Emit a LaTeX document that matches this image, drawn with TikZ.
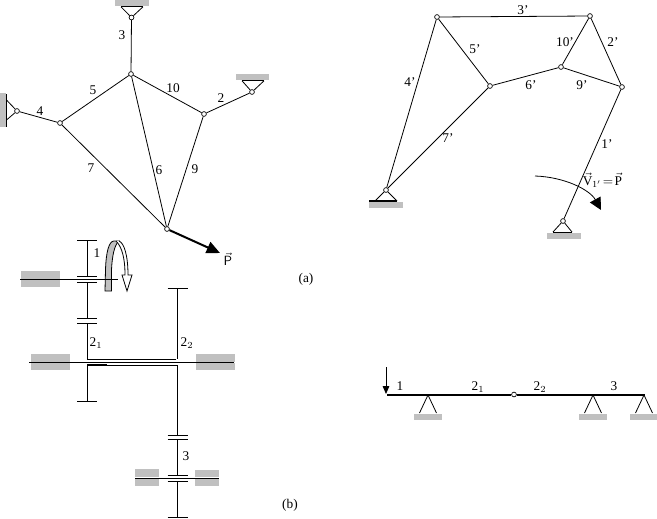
\documentclass[tikz,border=0pt]{standalone}
\usepackage{xcolor}
\usepackage{fontspec}
\setmainfont{Liberation Serif}
\usetikzlibrary{arrows.meta}
\definecolor{groundgray}{HTML}{C0C0C0}
\begin{document}
\begin{tikzpicture}[x=0.75pt,y=-0.75pt,
    pin/.style={circle,draw,fill=white,inner sep=0pt,minimum size=3.6pt,line width=0.5pt},
    bar/.style={line width=0.6pt},
    lbl/.style={inner sep=0pt,font=\fontsize{10}{11}\selectfont},
    ground/.style={fill=groundgray,draw=none}]
\useasboundingbox (0,0) rectangle (657,518);

% truss (a), left
\node[pin] (ttop) at (131.5,17.5) {};
\node[pin] (tleft) at (17,111) {};
\node[pin] (tright) at (252,92) {};
\node[pin] (ja) at (131,74) {};
\node[pin] (jb) at (60,123) {};
\node[pin] (jc) at (204,114) {};
\node[pin] (jd) at (167,229) {};
\coordinate (ptip) at (220,253);
\foreach \a/\b in {ttop/ja,tleft/jb,tright/jc,ja/jb,ja/jc,ja/jd,jb/jd,jc/jd}
    \draw[bar] (\a) -- (\b);
\draw[line width=1.5pt,-{Triangle[length=10pt,width=9pt]}] (jd) -- (ptip);

% supports of the truss
\fill[ground] (115,0) rectangle (149,6);
\fill[ground] (236,74) rectangle (269,80);
\fill[ground] (0,93) rectangle (5.5,127);
\draw[line width=1pt] (121,6.8) -- (143,6.8);
\draw[line width=1pt] (242,80.8) -- (264,80.8);
\draw[line width=1pt] (6.5,94) -- (6.5,127);
\draw[bar] (121,6.8) -- (ttop) -- (143,6.8);
\draw[bar] (242,80.8) -- (tright) -- (264,80.8);
\draw[bar] (6.5,100) -- (tleft) -- (6.5,120);

\foreach \t/\x/\y in {3/122/35,5/93/90,4/40/111,10/173/88,2/221/98,7/91/168,6/159/170,9/195/169}
    \node[lbl] (n\t) at (\x,\y) {\t};
\node[lbl] (plabel) at (228,259) {$\vec{\mathsf{P}}$};
\node[lbl] (capa) at (306,279) {(a)};

% truss (a), right
\node[pin] (ra) at (437,17) {};
\node[pin] (rb) at (590,16) {};
\node[pin] (rc) at (490,86) {};
\node[pin] (rd) at (561,67) {};
\node[pin] (re) at (622,87) {};
\node[pin] (rf) at (386,190) {};
\node[pin] (rg) at (563,221) {};
\foreach \a/\b in {ra/rb,ra/rc,ra/rf,rc/rf,rc/rd,rd/re,rd/rb,rb/re,re/rg}
    \draw[bar] (\a) -- (\b);

\fill[ground] (369,202) rectangle (403,208);
\fill[ground] (547,233) rectangle (581,239);
\draw[line width=0.9pt] (369,201) -- (397,201);
\draw[line width=0.7pt] (553,232) -- (572,232);
\draw[bar] (375,201) -- (rf) -- (397,201);
\draw[bar] (553,232) -- (rg) -- (572,232);

\foreach \t/\x/\y in {3/523/10,5/475/49,4/410/82,10/565/42,2/613/42,6/531/85,9/582/85,7/448/138,1/607/144}
    \node[lbl] (m\t) at (\x,\y) {\t'};
\node[lbl] (vlabel) at (602.5,180) {$\vec{\mathrm{V}}_{\mathrm{1'}}\!=\!\vec{\mathrm{P}}$};
\coordinate (va) at (535,176);
\coordinate (vb) at (601,210);
\draw[bar,-{Triangle[length=9pt,width=9pt]}] (va) .. controls (565,177) and (590,190) .. (vb);

% gear train (b)
\fill[ground] (21,271) rectangle (60,279);
\fill[ground] (21,280) rectangle (60,287);
\fill[ground] (31,354) rectangle (70,362);
\fill[ground] (31,363) rectangle (70,370);
\fill[ground] (196,354) rectangle (235,362);
\fill[ground] (196,363) rectangle (235,370);
\fill[ground] (135,469) rectangle (159,477);
\fill[ground] (135,479) rectangle (159,486);
\fill[ground] (195,470) rectangle (219,477);
\fill[ground] (195,479) rectangle (219,486);

\foreach \y in {240,276,282,318,323,401}
    \draw[bar] (77,\y) -- (97,\y);
\foreach \y in {288,435,439,475,481,517}
    \draw[bar] (167.5,\y) -- (187.5,\y);
\foreach \a/\b in {240/276,282/318,323/359,365/401}
    \draw[bar] (87,\a) -- (87,\b);
\foreach \a/\b in {288/359,365/435,439/475,481/517}
    \draw[bar] (177,\a) -- (177,\b);

% rotation sign
\draw[bar,fill=groundgray] (105,291) -- (105.5,270) .. controls (106,252) and (109,241) .. (114,241)
    -- (119,241) .. controls (114,245) and (112,258) .. (111.5,270) -- (111.5,291) -- cycle;
\draw[bar,fill=white] (119,241) .. controls (124,243) and (128,255) .. (128,275) -- (132,275)
    -- (127,291) -- (122,275) -- (125,275) .. controls (125,258) and (122,247) .. (116,241);

% shafts
\draw[bar] (20,279.5) -- (118,279.5);
\draw[bar] (29,362.5) -- (234,362.5);
\draw[bar] (135,478) -- (219,478);
\draw[bar] (87,359) -- (176,359);
\draw[bar] (87,365.5) -- (177,365.5);
\draw[line width=1.2pt] (87,364.6) -- (107,364.6);

\node[lbl] (g1) at (97,253) {1};
\node[lbl] (g21) at (96,343) {2$_1$};
\node[lbl] (g22) at (187,343) {2$_2$};
\node[lbl] (g3) at (186,456) {3};
\node[lbl] (capb) at (290,505) {(b)};

% beam (b), right
\node[pin] (hinge) at (514,394.5) {};
\coordinate (bl) at (387,394.5);
\coordinate (br) at (645,394.5);
\coordinate (fa) at (386,367);
\draw[line width=1.5pt] (bl) -- (hinge) -- (br);
\draw[bar,-{Triangle[length=6pt,width=5pt]}] (fa) -- (386,394);
\foreach \x in {428,593,644}
{
    \draw[bar] (\x-8.5,413) -- (\x,395) -- (\x+8.5,413);
    \fill[ground] (\x-14.5,413.5) rectangle (\x+14,419.5);
}
\node[lbl] (b1) at (400,386) {1};
\node[lbl] (b21) at (478,387) {2$_1$};
\node[lbl] (b22) at (540,387) {2$_2$};
\node[lbl] (b3) at (614,386) {3};
\end{tikzpicture}
\end{document}
